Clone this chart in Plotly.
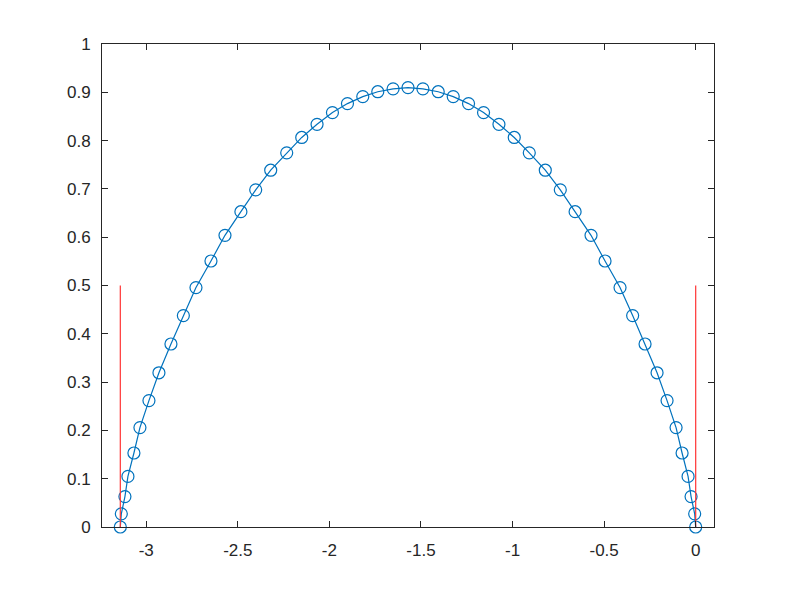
"""Octave-style plot: sampled arch on [-pi, 0] with two red marker lines."""

import plotly.graph_objects as go

_C_BLUE = "#0072BD"
_C_RED = "#FF3333"
_C_AXIS = "#262626"
_FONT = dict(family="Liberation Sans, Arial, sans-serif", size=17, color=_C_AXIS)

# sample points
X_PTS = [
    -3.1416, -3.1361, -3.1164, -3.1000, -3.0673, -3.0345, -2.9853, -2.9307,
    -2.8651, -2.7974, -2.7285, -2.6466, -2.5701, -2.4832, -2.4024, -2.3204,
    -2.2330, -2.1510, -2.0674, -1.9833, -1.9013, -1.8177, -1.7358, -1.6522,
    -1.5708,
    -1.4894, -1.4058, -1.3239, -1.2403, -1.1583, -1.0742, -0.9906, -0.9086,
    -0.8212, -0.7392, -0.6584, -0.5715, -0.4950, -0.4131, -0.3442, -0.2765,
    -0.2109, -0.1563, -0.1071, -0.0743, -0.0416, -0.0252, -0.0055, 0.0,
]
Y_PTS = [
    0.0, 0.0273, 0.0629, 0.1047, 0.1532, 0.2058, 0.2617, 0.3193,
    0.3789, 0.4377, 0.4957, 0.5507, 0.6039, 0.6528, 0.6980, 0.7387,
    0.7747, 0.8065, 0.8337, 0.8580, 0.8766, 0.8911, 0.9012, 0.9072,
    0.9097,
    0.9072, 0.9012, 0.8911, 0.8766, 0.8580, 0.8337, 0.8065, 0.7747,
    0.7387, 0.6980, 0.6528, 0.6039, 0.5507, 0.4957, 0.4377, 0.3789,
    0.3193, 0.2617, 0.2058, 0.1532, 0.1047, 0.0629, 0.0273, 0.0,
]

# red vertical markers at the interval ends
RED_X = [-3.1416, 0.0]
RED_Y = [0.0, 0.5]

X_TICKS = [-3, -2.5, -2, -1.5, -1, -0.5, 0]
X_TICK_LABELS = ["-3", "-2.5", "-2", "-1.5", "-1", "-0.5", "0"]
Y_TICKS = [0, 0.1, 0.2, 0.3, 0.4, 0.5, 0.6, 0.7, 0.8, 0.9, 1]
Y_TICK_LABELS = ["0", "0.1", "0.2", "0.3", "0.4", "0.5", "0.6", "0.7", "0.8", "0.9", "1"]


def build_figure() -> go.Figure:
    fig = go.Figure()

    # curve with open circles
    fig.add_trace(go.Scatter(
        x=X_PTS,
        y=Y_PTS,
        mode="lines+markers",
        line=dict(color=_C_BLUE, width=1.2),
        marker=dict(symbol="circle-open", size=12, color=_C_BLUE, line=dict(width=1.2)),
        cliponaxis=False,
        showlegend=False,
    ))

    # red lines
    for xv in RED_X:
        fig.add_trace(go.Scatter(
            x=[xv, xv],
            y=RED_Y,
            mode="lines",
            line=dict(color=_C_RED, width=1.2),
            showlegend=False,
        ))

    axis_common = dict(
        showline=True, linecolor=_C_AXIS, linewidth=1,
        mirror="ticks", ticks="inside", ticklen=6, tickcolor=_C_AXIS,
        showgrid=False, zeroline=False,
        tickfont=_FONT,
    )
    fig.update_xaxes(
        range=[-3.2416, 0.1],
        tickvals=X_TICKS, ticktext=X_TICK_LABELS,
        ticklabelstandoff=8,
        **axis_common,
    )
    fig.update_yaxes(
        range=[0, 1],
        tickvals=Y_TICKS, ticktext=Y_TICK_LABELS,
        ticklabelstandoff=7,
        **axis_common,
    )

    # page body adds 8px, so margins are shifted by that
    fig.update_layout(
        width=789, height=592,
        margin=dict(l=94, r=83, t=36, b=73),
        paper_bgcolor="white",
        plot_bgcolor="white",
        font=_FONT,
    )
    return fig


fig = build_figure()
fig.write_html("out.html")
